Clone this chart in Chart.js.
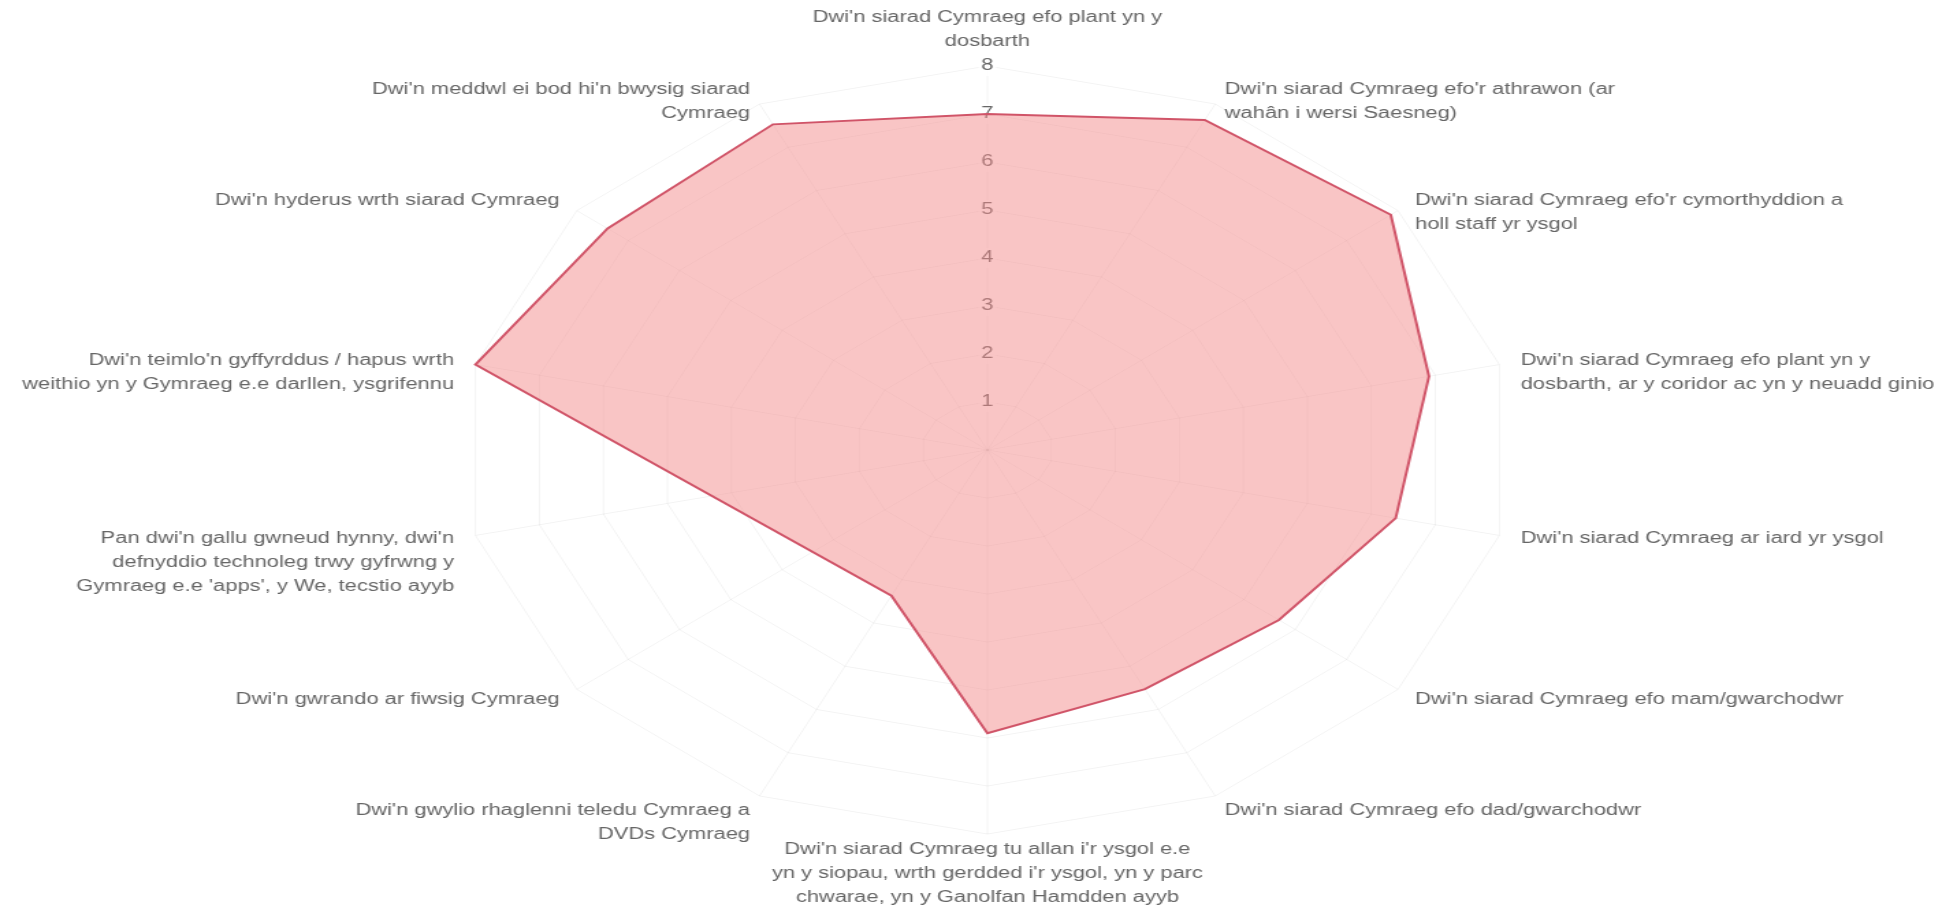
<!DOCTYPE html>
<html>
<head>
<meta charset="utf-8">
<title>Radar</title>
<script src="https://cdn.jsdelivr.net/npm/chart.js@4.4.1/dist/chart.umd.min.js"></script>
<style>
    html, body { margin: 0; padding: 0; background: #ffffff; overflow: hidden; }
</style>
</head>
<body>
<!-- the picture is stretched sideways: drawn 1431 wide, shown 1957 wide -->
<canvas id="radarChart" width="1431" height="909" style="display:block;width:1957px;height:909px"></canvas>
<script>
var statementLabels = [
    ["Dwi'n siarad Cymraeg efo plant yn y", "dosbarth"],
    ["Dwi'n siarad Cymraeg efo'r athrawon (ar", "wahân i wersi Saesneg)"],
    ["Dwi'n siarad Cymraeg efo'r cymorthyddion a", "holl staff yr ysgol"],
    ["Dwi'n siarad Cymraeg efo plant yn y", "dosbarth, ar y coridor ac yn y neuadd ginio"],
    "Dwi'n siarad Cymraeg ar iard yr ysgol",
    "Dwi'n siarad Cymraeg efo mam/gwarchodwr",
    "Dwi'n siarad Cymraeg efo dad/gwarchodwr",
    ["Dwi'n siarad Cymraeg tu allan i'r ysgol e.e", "yn y siopau, wrth gerdded i'r ysgol, yn y parc", "chwarae, yn y Ganolfan Hamdden ayyb"],
    ["Dwi'n gwylio rhaglenni teledu Cymraeg a", "DVDs Cymraeg"],
    "Dwi'n gwrando ar fiwsig Cymraeg",
    ["Pan dwi'n gallu gwneud hynny, dwi'n", "defnyddio technoleg trwy gyfrwng y", "Gymraeg e.e 'apps', y We, tecstio ayyb"],
    ["Dwi'n teimlo'n gyffyrddus / hapus wrth", "weithio yn y Gymraeg e.e darllen, ysgrifennu"],
    "Dwi'n hyderus wrth siarad Cymraeg",
    ["Dwi'n meddwl ei bod hi'n bwysig siarad", "Cymraeg"]
];

// two statements have no value in the picture, the line runs straight past them
var statementScores = [7, 7.63, 7.86, 6.9, 6.38, 5.68, 5.53, 5.9, 3.37, null, null, 8, 7.4, 7.53];

var scoreMin = 0;
var scoreMax = 8;
var scoreStep = 1;

var fontFamily = "'Liberation Sans', Arial, sans-serif";
var textColor = '#666';

// point labels drawn by hand: first line sits on the point, lines run downwards
var pointLabelPlugin = {
    id: 'pointLabelText',
    afterDatasetsDraw: function(chart) {
        var scale = chart.scales.r;
        var ctx = chart.ctx;
        var count = chart.data.labels.length;
        var lineHeight = 24;

        ctx.save();
        ctx.font = '16px ' + fontFamily;
        ctx.fillStyle = textColor;
        ctx.textBaseline = 'middle';

        for (var i = 0; i < count; i++) {
            var lines = [].concat(chart.data.labels[i]);
            var pos = scale.getPointPosition(i, scale.drawingArea + 16);
            var deg = Math.round(i * 360 / count);
            var y = pos.y;

            if (deg === 0 || deg === 180) {
                ctx.textAlign = 'center';
            } else if (deg < 180) {
                ctx.textAlign = 'left';
            } else {
                ctx.textAlign = 'right';
            }
            if (deg === 0) {
                y = pos.y - 8 - (lines.length - 1) * lineHeight;
            }
            for (var j = 0; j < lines.length; j++) {
                ctx.fillText(lines[j], pos.x, y + j * lineHeight);
            }
        }
        ctx.restore();
    }
};

var radarConfig = {
    type: 'radar',
    data: {
        labels: statementLabels,
        datasets: [{
            data: statementScores,
            backgroundColor: 'rgba(243, 140, 140, 0.5)',
            borderColor: 'rgb(208, 84, 104)',
            borderWidth: 2,
            pointRadius: 0,
            spanGaps: true,
            fill: true
        }]
    },
    options: {
        responsive: false,
        devicePixelRatio: 1,
        animation: false,
        layout: {
            padding: { top: 56, bottom: 65, left: 14, right: 0 }
        },
        plugins: {
            legend: { display: false },
            title: { display: false },
            tooltip: { enabled: false }
        },
        scales: {
            r: {
                min: scoreMin,
                max: scoreMax,
                ticks: {
                    stepSize: scoreStep,
                    color: textColor,
                    font: { family: fontFamily, size: 16 }
                },
                pointLabels: { display: false },
                grid: { color: 'rgba(0, 0, 0, 0.05)' },
                angleLines: { color: 'rgba(0, 0, 0, 0.05)' }
            }
        }
    },
    plugins: [pointLabelPlugin]
};

window.onload = function() {
    var ctx = document.getElementById('radarChart').getContext('2d');
    window.radarChart = new Chart(ctx, radarConfig);
};
</script>
</body>
</html>
